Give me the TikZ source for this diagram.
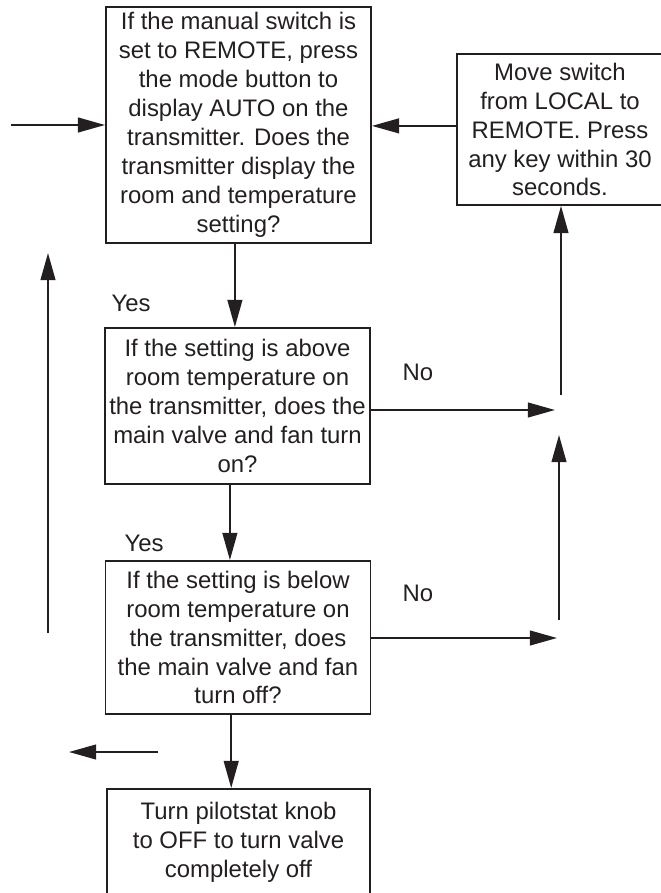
\documentclass[tikz,border=0pt]{standalone}
\usepackage{fontspec}
\setmainfont{Liberation Sans}
\usetikzlibrary{arrows.meta}
\definecolor{ink}{HTML}{231F20}
\tikzset{
  box/.style={draw=ink, line width=1.3pt, align=center, inner sep=0pt, text=ink,
    font=\fontsize{17}{20.6}\selectfont},
  kquestion/.style={box, minimum width=6.625cm},
  kaction/.style={box},
  klabel/.style={text=ink, font=\fontsize{17}{20.6}\selectfont, inner sep=0pt},
  flow/.style={-{Triangle[length=0.68cm, width=0.37cm]}, line width=1.3pt, draw=ink},
}

\begin{document}
\begin{tikzpicture}[x=0.025cm, y=-0.025cm]
    \useasboundingbox (0,0) rectangle (661,893);
    \clip (0,0) rectangle (661,893);
    \node[kquestion, minimum height=5.9cm] (remote) at (238.5,125) {If the manual switch is\\set to REMOTE, press\\the mode button to\\display AUTO on the\\transmitter. Does the\\transmitter display the\\room and temperature\\setting?};
    \node[kaction, minimum width=5.15cm, minimum height=3.775cm] (local) at (560,129.5) {Move switch\\from LOCAL to\\REMOTE. Press\\any key within 30\\seconds.};
    \node[kquestion, minimum height=3.9cm] (above) at (237.5,406) {If the setting is above\\room temperature on\\the transmitter, does the\\main valve and fan turn\\on?};
    \node[kquestion, minimum height=3.825cm] (below) at (238,637.5) {If the setting is below\\room temperature on\\the transmitter, does\\the main valve and fan\\turn off?};
    \node[kaction, minimum width=6.575cm, minimum height=2.65cm] (knob) at (238.5,842) {Turn pilotstat knob\\to OFF to turn valve\\completely off};
    \node[klabel] (yes1) at (131,303) {Yes};
    \node[klabel] (yes2) at (144,543) {Yes};
    \node[klabel] (no1) at (418,372) {No};
    \node[klabel] (no2) at (418,593) {No};
    \coordinate (entry) at (11,125);
    \coordinate (noabove) at (555,410);
    \coordinate (upabove) at (561,395);
    \coordinate (nobelow) at (557,638);
    \coordinate (upbelow) at (559,620);
    \coordinate (upbelowtip) at (559,435);
    \coordinate (back) at (158,752);
    \coordinate (backtip) at (69,752);
    \coordinate (loopfoot) at (48,633);
    \coordinate (looptip) at (48,253);
    \draw[flow] (entry) -- (entry -| remote.west);
    \draw[flow] ([yshift=0.09cm]local.west) -- ([yshift=0.09cm]local.west -| remote.east);
    \draw[flow] ([xshift=-0.09cm]remote.south) -- ([xshift=-0.09cm]remote.south |- above.north);
    \draw[flow] ([xshift=-0.19cm]above.south) -- ([xshift=-0.19cm]above.south |- below.north);
    \draw[flow] ([xshift=-0.17cm]below.south) -- ([xshift=-0.17cm]below.south |- knob.north);
    \draw[flow] (noabove -| above.east) -- (noabove);
    \draw[flow] (upabove) -- (upabove |- local.south);
    \draw[flow] (nobelow -| below.east) -- (nobelow);
    \draw[flow] (upbelow) -- (upbelowtip);
    \draw[flow] (back) -- (backtip);
    \draw[flow] (loopfoot) -- (looptip);
  \end{tikzpicture}
\end{document}
